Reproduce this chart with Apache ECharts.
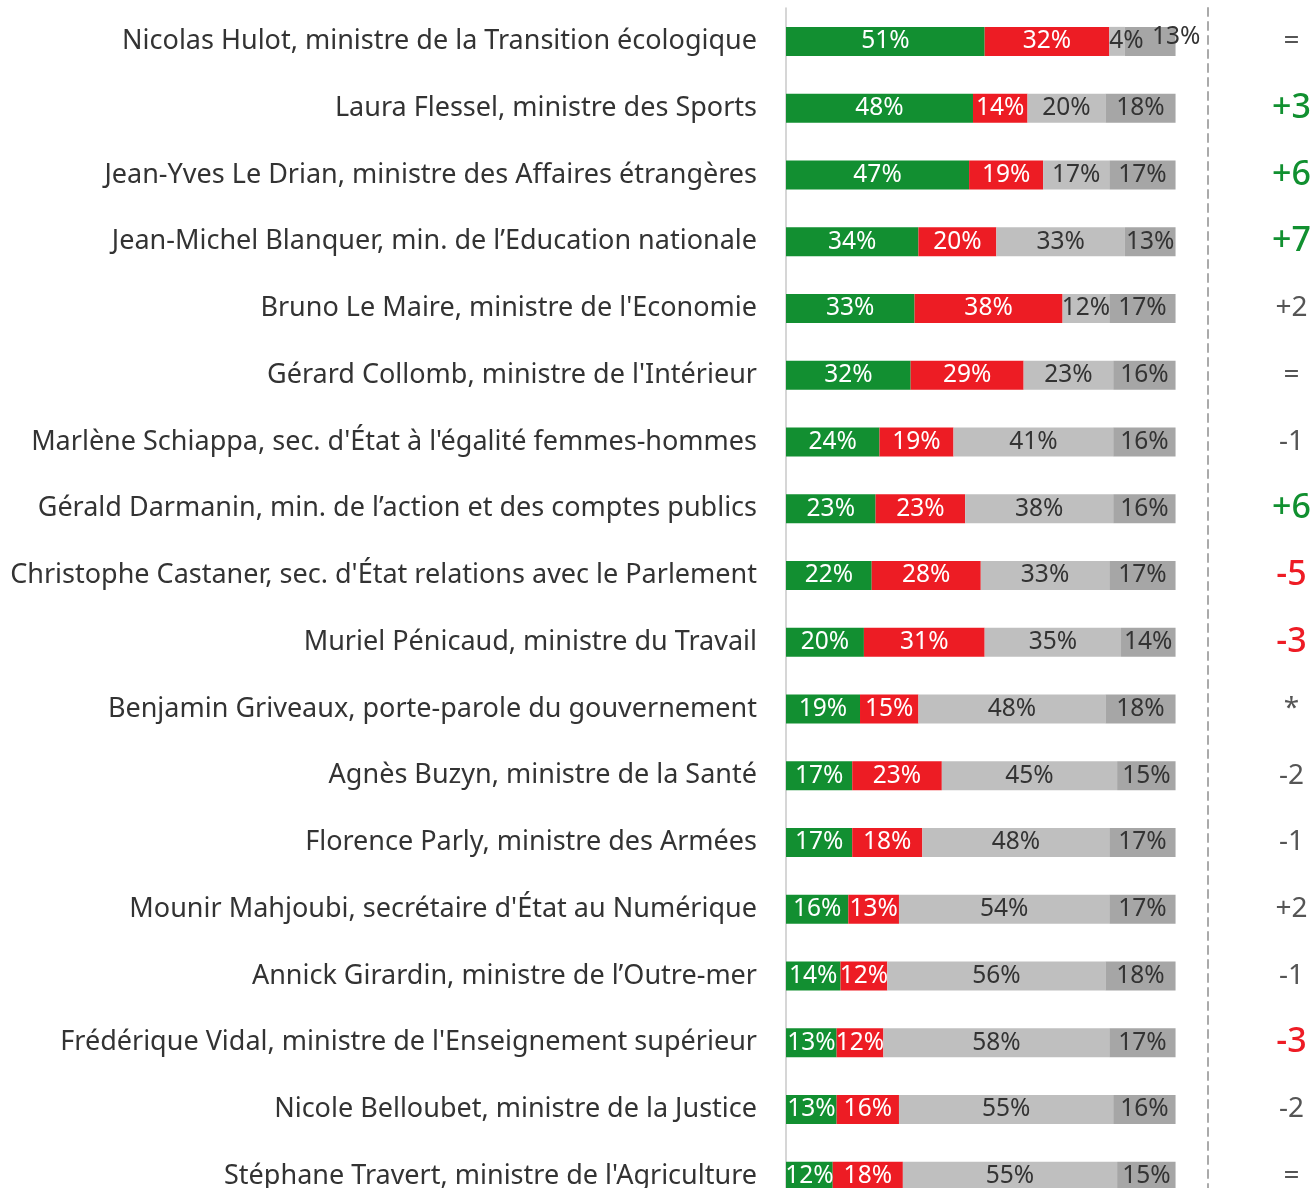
<!DOCTYPE html>
<html><head><meta charset="utf-8">
<script src="https://cdn.jsdelivr.net/npm/echarts@6/dist/echarts.min.js"></script>
<style>html,body{margin:0;padding:0;background:#fff;overflow:hidden}#c{width:1314px;height:1240px}</style>
</head><body><div id="c"></div>
<script>
const categories = [
  "Nicolas Hulot, ministre de la Transition écologique",
  "Laura Flessel, ministre des Sports",
  "Jean-Yves Le Drian, ministre des Affaires étrangères",
  "Jean-Michel Blanquer, min. de l’Education nationale",
  "Bruno Le Maire, ministre de l'Economie",
  "Gérard Collomb, ministre de l'Intérieur",
  "Marlène Schiappa, sec. d'État à l'égalité femmes-hommes",
  "Gérald Darmanin, min. de l’action et des comptes publics",
  "Christophe Castaner, sec. d'État relations avec le Parlement",
  "Muriel Pénicaud, ministre du Travail",
  "Benjamin Griveaux, porte-parole du gouvernement",
  "Agnès Buzyn, ministre de la Santé",
  "Florence Parly, ministre des Armées",
  "Mounir Mahjoubi, secrétaire d'État au Numérique",
  "Annick Girardin, ministre de l’Outre-mer",
  "Frédérique Vidal, ministre de l'Enseignement supérieur",
  "Nicole Belloubet, ministre de la Justice",
  "Stéphane Travert, ministre de l'Agriculture"
];
const positive = [51,48,47,34,33,32,24,23,22,20,19,17,17,16,14,13,13,12];
const negative = [32,14,19,20,38,29,19,23,28,31,15,23,18,13,12,12,16,18];
const neutral  = [4,20,17,33,12,23,41,38,33,35,48,45,48,54,56,58,55,55];
const noAnswer = [13,18,17,13,17,16,16,16,17,14,18,15,17,17,18,17,16,15];
const changes  = ["=","+3","+6","+7","+2","=","-1","+6","-5","-3","*","-2","-1","+2","-1","-3","-2","="];
const changeTone = ["n","g","g","g","n","n","n","g","r","r","n","n","n","n","n","r","n","n"];

const FONT = "'Noto Sans', 'Open Sans', sans-serif";
const chart = echarts.init(document.getElementById('c'), null, {renderer:'canvas'});

function lbl(color){
  return {show:true, position:'inside', color:color, fontSize:24.5, fontFamily:FONT,
          formatter: p => p.value + '%'};
}
const neutralData = neutral.map((v,i)=> i===0 ? {value:v, label:{position:'insideLeft', distance:0}} : v);
const noAnsData = noAnswer.map((v,i)=> i===0 ? {value:v, label:{offset:[26,-4]}} : v);

chart.setOption({
  animation:false,
  grid:{left:786, right:138, top:8, height:1201.5},
  xAxis:{type:'value', min:0, max:100, show:false},
  yAxis:[{
    type:'category', data:categories, inverse:true,
    axisLine:{show:true, lineStyle:{color:'#c8c8c8', width:1.5}},
    axisTick:{show:false},
    axisLabel:{fontSize:27, color:'#333', fontFamily:FONT, margin:29}
  },{
    type:'category', data:changes, inverse:true, position:'right', offset:32,
    axisLine:{show:true, lineStyle:{color:'#aaaaaa', type:[8,6], width:2}},
    axisTick:{show:false},
    axisLabel:{margin:84, align:'center', fontFamily:FONT,
      formatter:(v,i)=>'{'+changeTone[i]+'|'+v+'}',
      rich:{
        n:{fontSize:28, color:'#555'},
        g:{fontSize:34, color:'#119030', fontWeight:500},
        r:{fontSize:34, color:'#ee1c25', fontWeight:500}
      }}
  }],
  series:[
    {type:'bar', stack:'t', barWidth:29, data:positive, itemStyle:{color:'#128f31'}, label:lbl('#fff')},
    {type:'bar', stack:'t', data:negative, itemStyle:{color:'#ed1c24'}, label:lbl('#fff')},
    {type:'bar', stack:'t', data:neutralData, itemStyle:{color:'#bfbfbf'}, label:lbl('#333')},
    {type:'bar', stack:'t', data:noAnsData, itemStyle:{color:'#a6a6a6'}, label:lbl('#333')}
  ]
});
</script></body></html>
